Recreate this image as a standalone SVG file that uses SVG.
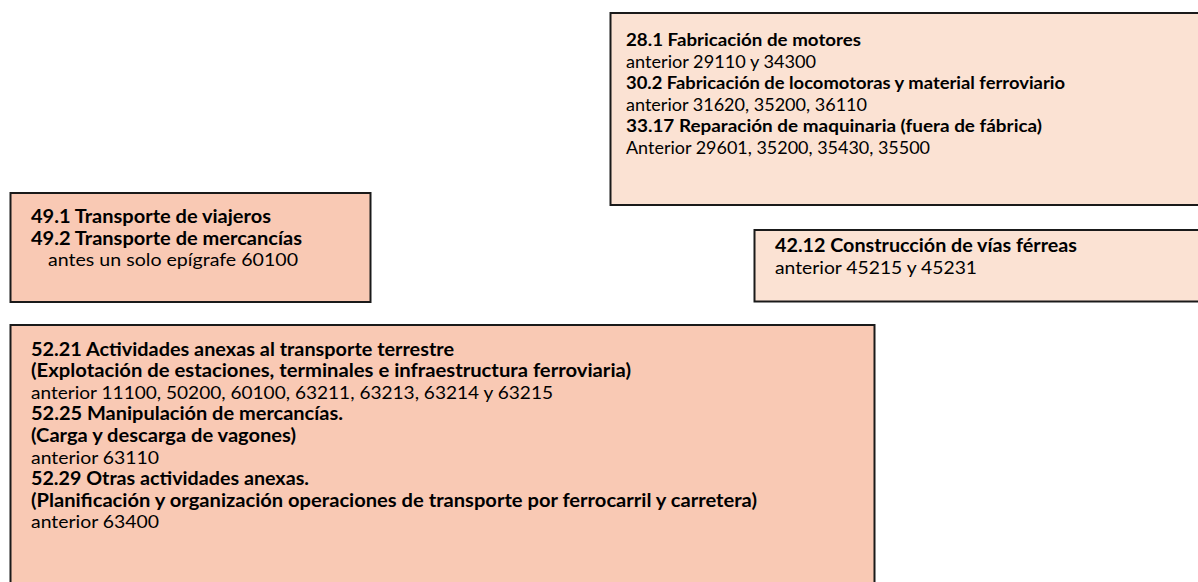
<svg xmlns="http://www.w3.org/2000/svg" width="1198" height="582" viewBox="0 0 1198 582">
<style>
.box{stroke:#1a1a1a;stroke-width:2}
.light{fill:#fbe2d3}
.dark{fill:#f9c9b4}
text{font-family:Lato,"Liberation Sans",sans-serif;fill:#000;font-size:18px}
.b{font-weight:bold}
.sm{font-size:16.9px}
</style>
<rect width="1198" height="582" fill="#ffffff"/>
<g id="connectors"></g>
<g id="node-fabricacion">
<rect class="box light" x="610.5" y="13" width="600" height="192"/>
<text x="626" y="46" class="b sm" textLength="235" lengthAdjust="spacingAndGlyphs">28.1 Fabricación de motores</text>
<text x="626" y="67.5" class="sm" textLength="190" lengthAdjust="spacingAndGlyphs">anterior 29110 y 34300</text>
<text x="626" y="89" class="b sm" textLength="439" lengthAdjust="spacingAndGlyphs">30.2 Fabricación de locomotoras y material ferroviario</text>
<text x="626" y="110.5" class="sm" textLength="241" lengthAdjust="spacingAndGlyphs">anterior 31620, 35200, 36110</text>
<text x="626" y="132" class="b sm" textLength="416" lengthAdjust="spacingAndGlyphs">33.17 Reparación de maquinaria (fuera de fábrica)</text>
<text x="626" y="153.5" class="sm" textLength="304" lengthAdjust="spacingAndGlyphs">Anterior 29601, 35200, 35430, 35500</text>
</g>
<g id="node-transporte">
<rect class="box dark" x="10.5" y="193" width="360" height="109"/>
<text x="31" y="223" class="b" textLength="240" lengthAdjust="spacingAndGlyphs">49.1 Transporte de viajeros</text>
<text x="31" y="244.5" class="b" textLength="271" lengthAdjust="spacingAndGlyphs">49.2 Transporte de mercancías</text>
<text x="48" y="266" textLength="250" lengthAdjust="spacingAndGlyphs">antes un solo epígrafe 60100</text>
</g>
<g id="node-construccion">
<rect class="box light" x="754.5" y="230" width="460" height="71.5"/>
<text x="775" y="252" class="b" textLength="302" lengthAdjust="spacingAndGlyphs">42.12 Construcción de vías férreas</text>
<text x="775" y="273.5" textLength="202" lengthAdjust="spacingAndGlyphs">anterior 45215 y 45231</text>
</g>
<g id="node-actividades">
<rect class="box dark" x="10.5" y="325" width="864" height="280"/>
<text x="31" y="355.5" class="b" textLength="423" lengthAdjust="spacingAndGlyphs">52.21 Actividades anexas al transporte terrestre</text>
<text x="31" y="377.1" class="b" textLength="600" lengthAdjust="spacingAndGlyphs">(Explotación de estaciones, terminales e infraestructura ferroviaria)</text>
<text x="31" y="398.7" textLength="522" lengthAdjust="spacingAndGlyphs">anterior 11100, 50200, 60100, 63211, 63213, 63214 y 63215</text>
<text x="31" y="420.3" class="b" textLength="312" lengthAdjust="spacingAndGlyphs">52.25 Manipulación de mercancías.</text>
<text x="31" y="441.9" class="b" textLength="265" lengthAdjust="spacingAndGlyphs">(Carga y descarga de vagones)</text>
<text x="31" y="463.5" textLength="128" lengthAdjust="spacingAndGlyphs">anterior 63110</text>
<text x="31" y="485.1" class="b" textLength="278" lengthAdjust="spacingAndGlyphs">52.29 Otras actividades anexas.</text>
<text x="31" y="506.7" class="b" textLength="726" lengthAdjust="spacingAndGlyphs">(Planificación y organización operaciones de transporte por ferrocarril y carretera)</text>
<text x="31" y="528.3" textLength="128" lengthAdjust="spacingAndGlyphs">anterior 63400</text>
</g>
</svg>
